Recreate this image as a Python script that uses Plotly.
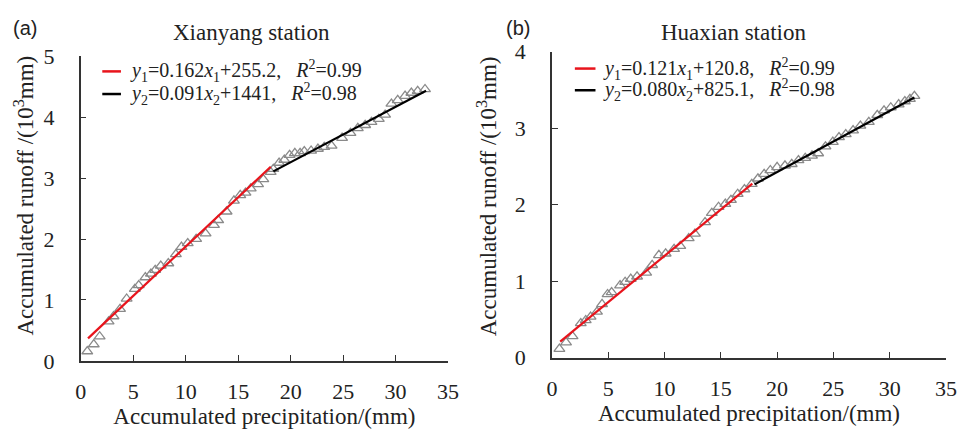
import plotly.graph_objects as go

# ---------------- data ----------------
# Panel (a) Xianyang station (x, y in 10^3 mm)
xa = [0.63, 1.25, 1.81, 2.66, 3.13, 3.75, 4.38, 5.16, 5.53, 6.16, 6.69, 7.1, 7.63, 8.35,
      9.07, 9.6, 10.2, 11.0, 11.9, 12.7, 13.1, 13.9, 14.6, 15.2, 15.7, 16.2, 16.9, 17.4,
      18.1, 18.35, 18.9, 19.4, 19.9, 20.4, 20.9, 21.3, 21.95, 22.6, 23.2, 23.9, 24.9,
      25.7, 26.4, 27.1, 27.7, 28.4, 29.0, 29.6, 30.2, 30.9, 31.5, 32.1, 32.8]
ya = [0.155, 0.27, 0.40, 0.645, 0.73, 0.85, 1.02, 1.18, 1.24, 1.37, 1.43, 1.49, 1.56, 1.60,
      1.75, 1.87, 1.93, 2.0, 2.09, 2.23, 2.31, 2.45, 2.63, 2.72, 2.76, 2.83, 2.9, 2.98,
      3.1, 3.15, 3.25, 3.30, 3.38, 3.41, 3.41, 3.44, 3.45, 3.48, 3.51, 3.53, 3.66,
      3.74, 3.82, 3.87, 3.92, 3.97, 4.04, 4.22, 4.28, 4.35, 4.40, 4.43, 4.46]

# Panel (b) Huaxian station
xb = [0.66, 1.25, 1.83, 2.56, 3.0, 3.43, 4.0, 4.45, 4.94, 5.3, 6.05, 6.5, 7.0, 7.56, 8.37,
      8.9, 9.5, 10.1, 10.85, 11.4, 12.15, 12.7, 13.6, 14.2, 14.8, 15.4, 15.9, 16.5, 17.1,
      17.75, 18.3, 18.85, 19.4, 20.0, 20.7, 21.3, 21.9, 22.5, 23.1, 23.65, 24.3, 24.95,
      25.5, 26.1, 26.75, 27.4, 28.15, 28.9, 29.5, 30.1, 30.8, 31.35, 31.8, 32.2]
yb = [0.115, 0.20, 0.28, 0.45, 0.49, 0.535, 0.60, 0.70, 0.83, 0.855, 0.945, 0.99, 1.03,
      1.06, 1.11, 1.21, 1.34, 1.36, 1.42, 1.46, 1.56, 1.62, 1.77, 1.89, 1.97, 2.01, 2.06,
      2.14, 2.20, 2.27, 2.34, 2.40, 2.45, 2.49, 2.51, 2.53, 2.58, 2.61, 2.64, 2.67, 2.76,
      2.82, 2.88, 2.92, 2.97, 3.03, 3.08, 3.17, 3.23, 3.27, 3.31, 3.35, 3.38, 3.42]

# fitted equations (slope, intercept in mm) and x-extent of each fit line
fit_a1 = (0.162, 255.2); fit_a1_x = [0.7, 18.1]
fit_a2 = (0.091, 1441.0); fit_a2_x = [18.35, 32.9]
fit_b1 = (0.121, 120.8); fit_b1_x = [0.73, 17.8]
fit_b2 = (0.080, 825.1); fit_b2_x = [18.0, 32.2]

legend_a = ["<i>y</i><sub>1</sub>=0.162<i>x</i><sub>1</sub>+255.2,   <i>R</i><sup>2</sup>=0.99",
            "<i>y</i><sub>2</sub>=0.091<i>x</i><sub>2</sub>+1441,   <i>R</i><sup>2</sup>=0.98"]
legend_b = ["<i>y</i><sub>1</sub>=0.121<i>x</i><sub>1</sub>+120.8,   <i>R</i><sup>2</sup>=0.99",
            "<i>y</i><sub>2</sub>=0.080<i>x</i><sub>2</sub>+825.1,   <i>R</i><sup>2</sup>=0.98"]

SERIF = "Liberation Serif"
SANS = "Liberation Sans"
W, H = 970, 437


def line_pts(fit, xr):
    k, b = fit
    return xr, [k * x + b / 1000.0 for x in xr]


fig = go.Figure()
for xs, ys, xax, yax in [(xa, ya, "x", "y"), (xb, yb, "x2", "y2")]:
    fig.add_trace(go.Scatter(x=xs, y=ys, mode="markers", xaxis=xax, yaxis=yax,
                             marker=dict(symbol="triangle-up-open", size=9.5,
                                         color="#8a8a8a", line=dict(width=1.3, color="#8a8a8a")),
                             showlegend=False, cliponaxis=False))

for fit, xr, col, xax, yax in [(fit_a1, fit_a1_x, "#e8141c", "x", "y"),
                               (fit_a2, fit_a2_x, "#000000", "x", "y"),
                               (fit_b1, fit_b1_x, "#e8141c", "x2", "y2"),
                               (fit_b2, fit_b2_x, "#000000", "x2", "y2")]:
    lx, ly = line_pts(fit, xr)
    fig.add_trace(go.Scatter(x=lx, y=ly, mode="lines", xaxis=xax, yaxis=yax,
                             line=dict(color=col, width=2.2), showlegend=False))

axis_common = dict(showline=True, linecolor="#333333", linewidth=1.5, ticks="inside",
                   ticklen=6, tickwidth=1.3, tickcolor="#333333", showgrid=False,
                   zeroline=False, tickfont=dict(family=SERIF, size=22, color="#222"),
                   mirror=False)

xa_dom = [76 / W, 450 / W]
ya_dom = [(H - 370) / H, (H - 47) / H]
xb_dom = [555.7 / W, 956.7 / W]
yb_dom = [(H - 366.7) / H, (H - 42) / H]

xtitle = dict(text="Accumulated precipitation/(mm)", font=dict(family=SERIF, size=23, color="#222"), standoff=0)
ytitle_text = "Accumulated runoff /(10<sup>3</sup>mm)"

fig.update_layout(
    width=W, height=H, margin=dict(l=0, r=0, t=0, b=0),
    font=dict(family=SERIF, color="#222"),
    paper_bgcolor="white", plot_bgcolor="white",
    xaxis=dict(domain=xa_dom, range=[0, 35], dtick=5, anchor="y", title=xtitle,
               ticklabelstandoff=10, **axis_common),
    yaxis=dict(domain=ya_dom, range=[0, 5], dtick=1, anchor="x",
               ticklabelstandoff=20, **axis_common),
    xaxis2=dict(domain=xb_dom, range=[0, 35], dtick=5, anchor="y2", title=xtitle,
                ticklabelstandoff=10, **axis_common),
    yaxis2=dict(domain=yb_dom, range=[0, 4], dtick=1, anchor="x2",
                ticklabelstandoff=20, **axis_common),
)

ann = []
shapes = []
# y-axis titles
for cx in (19, 490):
    ann.append(dict(text=ytitle_text, x=cx / W, y=1 - 195 / H, xref="paper", yref="paper",
                    xanchor="center", yanchor="middle", textangle=-90, showarrow=False,
                    font=dict(family=SERIF, size=23, color="#222")))
# panel labels and titles
ann.append(dict(text="(a)", x=5 / W, y=1 - 17 / H, xref="paper", yref="paper", xanchor="left",
                yanchor="middle", showarrow=False, font=dict(family=SANS, size=20, color="#222")))
ann.append(dict(text="(b)", x=507 / W, y=1 - 17 / H, xref="paper", yref="paper", xanchor="left",
                yanchor="middle", showarrow=False, font=dict(family=SANS, size=20, color="#222")))
ann.append(dict(text="Xianyang station", x=250 / W, y=1 - 22 / H, xref="paper", yref="paper",
                xanchor="center", yanchor="middle", showarrow=False, font=dict(family=SERIF, size=23, color="#222")))
ann.append(dict(text="Huaxian station", x=740 / W, y=1 - 22 / H, xref="paper", yref="paper",
                xanchor="center", yanchor="middle", showarrow=False, font=dict(family=SERIF, size=23, color="#222")))

# manual legends
for (x0, x1, tx, ys, texts) in [(98, 117, 124, [63, 87], legend_a), (579, 600, 606, [60, 83], legend_b)]:
    for yy, txt, col in zip(ys, texts, ["#e8141c", "#000000"]):
        shapes.append(dict(type="line", xref="paper", yref="paper", x0=x0 / W, x1=x1 / W,
                           y0=1 - yy / H, y1=1 - yy / H, line=dict(color=col, width=2.5)))
        ann.append(dict(text=txt, x=tx / W, y=1 - yy / H, xref="paper", yref="paper",
                        xanchor="left", yanchor="middle", showarrow=False,
                        font=dict(family=SERIF, size=20, color="#222")))

fig.update_layout(annotations=ann, shapes=shapes)
fig.write_html("out.html", config={"displayModeBar": False},
               post_script="document.body.style.margin='0';document.body.style.overflow='hidden';")
